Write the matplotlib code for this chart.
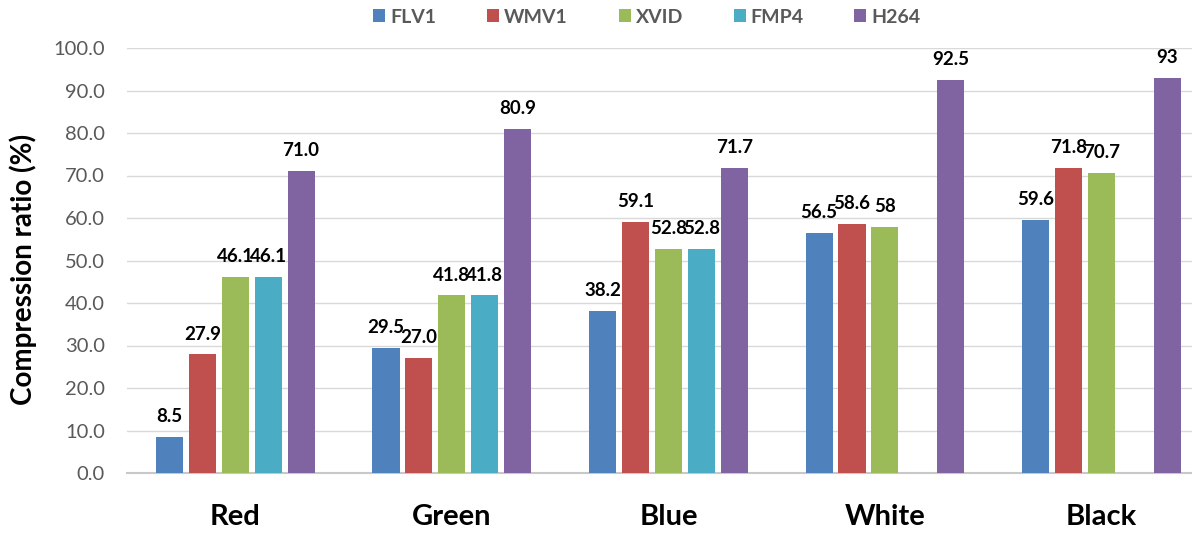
import numpy as np
import matplotlib
matplotlib.use('Agg')
from matplotlib import pyplot as plt

colors_cat = ['Red', 'Green', 'Blue', 'White', 'Black']
codecs = ['FLV1', 'WMV1', 'XVID', 'FMP4', 'H264']
bar_colors = ['#4F81BD', '#C0504D', '#9BBB59', '#4BACC6', '#8064A2']

flv1 = [8.5, 29.5, 38.2, 56.5, 59.6]
wmv1 = [27.9, 27.0, 59.1, 58.6, 71.8]
xvid = [46.1, 41.8, 52.8, 58.0, 70.7]
fmp4 = [46.1, 41.8, 52.8, np.nan, np.nan]
h264 = [71.0, 80.9, 71.7, 92.5, 93.0]

flv1_labels = ['8.5', '29.5', '38.2', '56.5', '59.6']
wmv1_labels = ['27.9', '27.0', '59.1', '58.6', '71.8']
xvid_labels = ['46.1', '41.8', '52.8', '58', '70.7']
fmp4_labels = ['46.1', '41.8', '52.8', '', '']
h264_labels = ['71.0', '80.9', '71.7', '92.5', '93']

series = [flv1, wmv1, xvid, fmp4, h264]
labels = [flv1_labels, wmv1_labels, xvid_labels, fmp4_labels, h264_labels]

plt.rcParams['font.family'] = ['Lato', 'DejaVu Sans']

fig = plt.figure(figsize=(11.92, 5.34), dpi=100)
ax = fig.add_axes([127 / 1192, 1 - 473 / 534, 1 - 127 / 1192, (473 - 48) / 534])

x = np.arange(len(colors_cat))
pitch = 0.152
width = 0.125
for i, (vals, labs) in enumerate(zip(series, labels)):
    pos = x + (i - 2) * pitch
    ax.bar(pos, vals, width, color=bar_colors[i], label=codecs[i], zorder=3)
    for px, v, t in zip(pos, vals, labs):
        if np.isnan(v):
            continue
        ax.annotate(t, (px, v), xytext=(0, 8.5), textcoords='offset points',
                    ha='center', va='bottom', fontsize=13.5, fontweight='bold',
                    color='black', zorder=4)

ax.set_xlim(-0.5, 4.418)
ax.set_ylim(0, 100)
ax.set_yticks(np.arange(0, 101, 10))
ax.set_yticklabels(['%.1f' % v for v in np.arange(0, 101, 10)])
ax.tick_params(axis='y', length=0, pad=16, labelsize=14.5, labelcolor='#595959')
ax.set_xticks(x)
ax.set_xticklabels(colors_cat, fontsize=21, fontweight='bold')
ax.tick_params(axis='x', length=0, pad=22)

ax.grid(axis='y', color='#d9d9d9', linewidth=1, zorder=0)
ax.set_axisbelow(True)
for side in ['top', 'right', 'left']:
    ax.spines[side].set_visible(False)
ax.spines['bottom'].set_color('#c8c8c8')
ax.spines['bottom'].set_linewidth(1.5)

ax.set_ylabel('Compression ratio (%)', fontsize=20, fontweight='bold')
ax.yaxis.set_label_coords(37 / 1192, 1 - 269 / 534, transform=fig.transFigure)

leg = fig.legend(loc='center', bbox_to_anchor=(647 / 1192, 1 - 17 / 534), ncol=5,
                 frameon=False, fontsize=14, handlelength=0.62, handleheight=0.62,
                 handletextpad=0.26, columnspacing=2.6)
for t in leg.get_texts():
    t.set_color('#595959')
    t.set_fontweight('bold')

fig.savefig('out.png', dpi=100)
